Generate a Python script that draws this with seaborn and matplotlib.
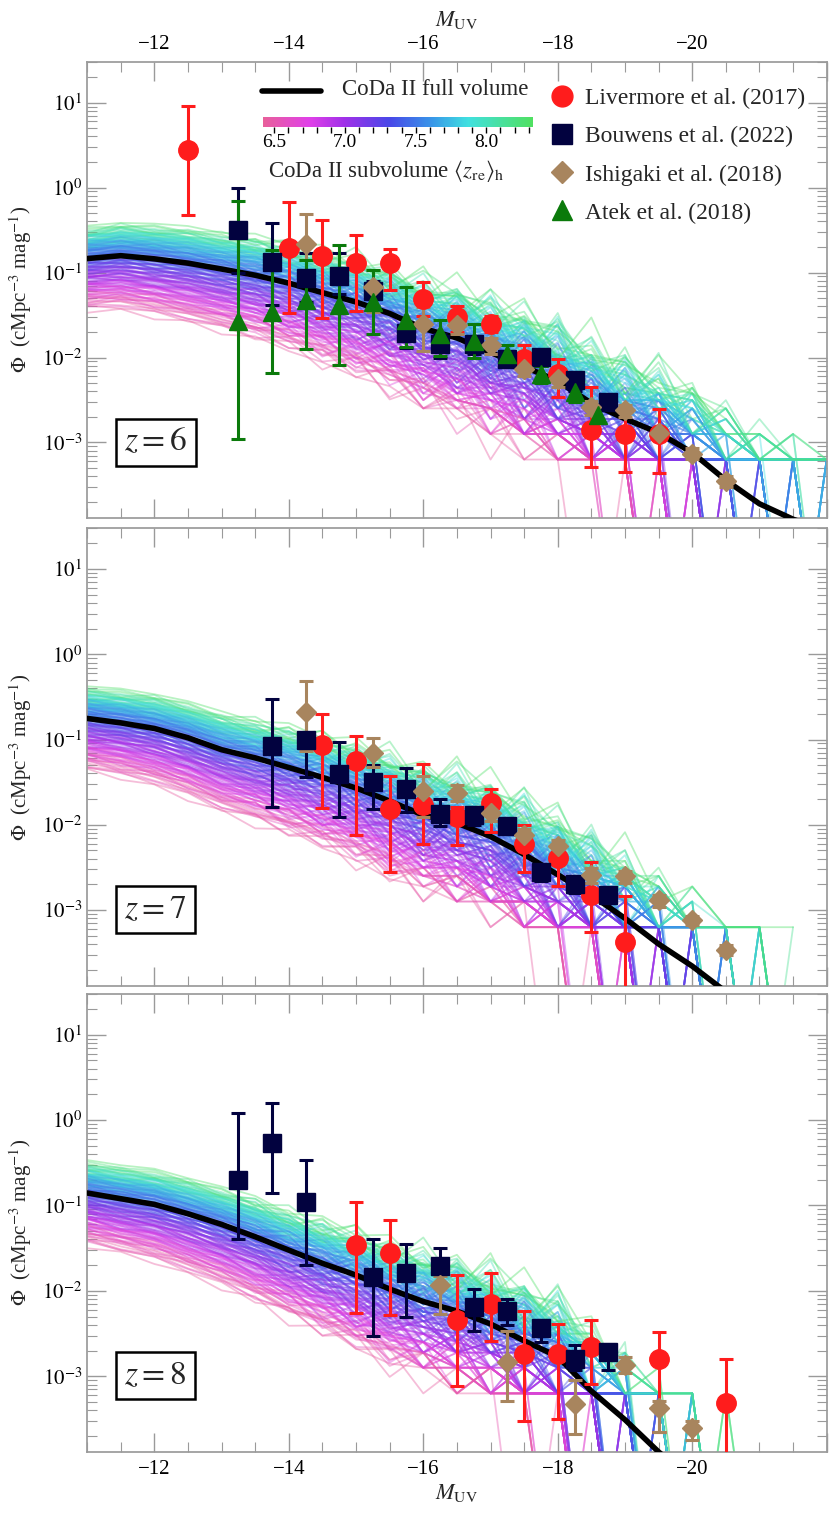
import matplotlib

matplotlib.use("Agg")
import matplotlib.pyplot as plt
import numpy as np
import seaborn as sns
from matplotlib.colors import LinearSegmentedColormap, Normalize
from matplotlib.lines import Line2D
from matplotlib.ticker import FixedLocator, LogLocator, NullFormatter

# ---------------- data ----------------
BINS = [-11.0 - 0.5 * i for i in range(23)]  # -11 ... -22

# CoDa II full volume (black), one value per bin
FULL_Z6 = [0.146, 0.158, 0.145, 0.129, 0.11, 0.093, 0.075, 0.058, 0.045, 0.033, 0.022, 0.017,
           0.0115, 0.0078, 0.0053, 0.0029, 0.0019, 0.0013, 0.00076, 0.00036, 0.00019, 0.000125, 0.00009]
FULL_Z7 = [0.177, 0.157, 0.135, 0.105, 0.076, 0.061, 0.047, 0.036, 0.027, 0.019, 0.013, 0.0105,
           0.0073, 0.0045, 0.0026, 0.0015, 0.0008, 0.0004, 0.00022, 0.00011, 0.00006, 0.00003, 0.000015]
FULL_Z8 = [0.14, 0.12, 0.103, 0.08, 0.06, 0.043, 0.03, 0.021, 0.0153, 0.0105, 0.0075, 0.0058,
           0.0041, 0.0026, 0.0017, 0.00067, 0.00031, 0.00013, 0.00006, 0.00003, 0.000015, 7e-6, 3e-6]
LAST_BIN = {6: -22.0, 7: -21.5, 8: -21.0}

# subvolumes: mean reionization redshift, log offset at M=-11, log tilt per magnitude
SUB_ZRE = [6.45, 6.52, 6.58, 6.63, 6.7, 6.76, 6.81, 6.86, 6.9, 6.95, 6.99, 7.03, 7.07, 7.1, 7.14,
           7.18, 7.22, 7.26, 7.3, 7.34, 7.38, 7.42, 7.46, 7.5, 7.54, 7.58, 7.62, 7.66, 7.7, 7.74,
           7.78, 7.82, 7.87, 7.92, 7.97, 8.02, 8.08, 8.15, 8.22, 8.3]
SUB_OFF = [-0.55, -0.48, -0.5, -0.42, -0.4, -0.36, -0.38, -0.3, -0.28, -0.3, -0.24, -0.22, -0.2,
           -0.18, -0.15, -0.14, -0.1, -0.09, -0.06, -0.05, -0.02, 0.0, 0.02, 0.03, 0.06, 0.07, 0.09,
           0.1, 0.12, 0.13, 0.15, 0.16, 0.18, 0.19, 0.21, 0.22, 0.24, 0.25, 0.27, 0.3]
SUB_TILT = [-0.06, -0.055, -0.05, -0.05, -0.045, -0.045, -0.04, -0.04, -0.035, -0.035, -0.03,
            -0.03, -0.025, -0.025, -0.02, -0.02, -0.015, -0.015, -0.01, -0.01, -0.005, -0.005, 0.0,
            0.0, 0.0, 0.005, 0.005, 0.01, 0.01, 0.01, 0.015, 0.015, 0.015, 0.02, 0.02, 0.02, 0.025,
            0.025, 0.03, 0.03]
VARIANT = [-0.07, -0.02, 0.03, 0.08]
JITTER = [0.0, 0.02, -0.03, 0.04, -0.02, 0.05, -0.06, 0.03, 0.08, -0.1, 0.12, -0.05, 0.14,
          -0.15, 0.1, -0.18, 0.2, -0.12, 0.16, -0.22, 0.25, -0.2, 0.18]
UNIT = 6.3e-4  # one galaxy per bin in a subvolume

# observations: (M, phi, lo, hi)
LIV = {
    6: [(-12.5, 2.75, 0.47, 9.1), (-14.0, 0.197, 0.033, 0.67), (-14.5, 0.158, 0.029, 0.42),
        (-15.0, 0.13, 0.035, 0.28), (-15.5, 0.128, 0.062, 0.19), (-16.0, 0.049, 0.031, 0.078),
        (-16.5, 0.0296, 0.02, 0.04), (-17.0, 0.025, 0.02, 0.031), (-17.5, 0.0095, 0.007, 0.014),
        (-18.0, 0.0064, 0.0034, 0.0097), (-18.5, 0.0014, 0.00052, 0.0045),
        (-19.0, 0.00126, 0.00045, 0.0023), (-19.5, 0.00126, 0.00044, 0.0025)],
    7: [(-14.5, 0.086, 0.0157, 0.2), (-15.0, 0.056, 0.0076, 0.11), (-15.5, 0.0154, 0.0028, 0.037),
        (-16.0, 0.017, 0.0059, 0.052), (-16.5, 0.0122, 0.0058, 0.016), (-17.0, 0.018, 0.0083, 0.026),
        (-17.5, 0.006, 0.0028, 0.01), (-18.0, 0.0041, 0.0019, 0.0055),
        (-18.5, 0.0015, 0.00056, 0.0037), (-19.0, 0.00042, 1e-5, 0.00148)],
    8: [(-15.0, 0.034, 0.0055, 0.11), (-15.5, 0.028, 0.0052, 0.068), (-16.5, 0.0046, 0.00077, 0.0153),
        (-17.0, 0.0071, 0.0026, 0.0163), (-17.5, 0.0018, 0.0003, 0.0058), (-18.0, 0.0018, 0.00032, 0.0041),
        (-18.5, 0.0022, 0.00081, 0.0045), (-19.5, 0.0016, 0.00022, 0.0033),
        (-20.5, 0.00048, 1e-5, 0.0016)],
}
BOU = {
    6: [(-13.25, 0.32, 0.1, 1.0), (-13.75, 0.133, 0.041, 0.38), (-14.25, 0.087, 0.045, 0.17),
        (-14.75, 0.09, 0.056, 0.17), (-15.25, 0.06, 0.04, 0.08), (-15.75, 0.0194, 0.013, 0.024),
        (-16.25, 0.0144, 0.01, 0.019), (-16.75, 0.0144, 0.011, 0.018), (-17.25, 0.0096, 0.008, 0.012),
        (-17.75, 0.0102, 0.008, 0.012), (-18.25, 0.0054, 0.004, 0.0065), (-18.75, 0.003, 0.0024, 0.0036)],
    7: [(-13.75, 0.083, 0.0164, 0.3), (-14.25, 0.1, 0.036, 0.2), (-14.75, 0.039, 0.0123, 0.094),
        (-15.25, 0.032, 0.0154, 0.05), (-15.75, 0.026, 0.014, 0.046), (-16.25, 0.0134, 0.0096, 0.02),
        (-16.75, 0.013, 0.01, 0.016), (-17.25, 0.0096, 0.008, 0.011), (-17.75, 0.0028, 0.0022, 0.0034),
        (-18.25, 0.002, 0.0016, 0.0024), (-18.75, 0.0015, 0.0012, 0.0018)],
    8: [(-13.25, 0.2, 0.04, 1.2), (-13.75, 0.54, 0.14, 1.58), (-14.25, 0.11, 0.02, 0.34),
        (-15.25, 0.0144, 0.003, 0.041), (-15.75, 0.016, 0.005, 0.035), (-16.25, 0.0195, 0.012, 0.032),
        (-16.75, 0.0065, 0.0034, 0.0105), (-17.25, 0.0058, 0.004, 0.0081), (-17.75, 0.0037, 0.0025, 0.0045),
        (-18.25, 0.0016, 0.0012, 0.0023), (-18.75, 0.0019, 0.0012, 0.0024)],
}
ISH = {
    6: [(-14.25, 0.215, 0.14, 0.49), (-15.25, 0.068, 0.034, 0.108), (-16.0, 0.025, 0.012, 0.039),
        (-16.5, 0.024, 0.019, 0.03), (-17.0, 0.014, 0.011, 0.017), (-17.5, 0.0074, 0.006, 0.009),
        (-18.0, 0.0056, 0.0045, 0.0067), (-18.5, 0.0026, 0.0021, 0.0031), (-19.0, 0.0024, 0.002, 0.0028),
        (-19.5, 0.0013, 0.0011, 0.0015), (-20.0, 0.00074, 0.00064, 0.00085),
        (-20.5, 0.00035, 0.0003, 0.0004)],
    7: [(-14.25, 0.21, 0.074, 0.49), (-15.25, 0.07, 0.048, 0.105), (-16.0, 0.025, 0.0125, 0.037),
        (-16.5, 0.0235, 0.019, 0.029), (-17.0, 0.0137, 0.011, 0.017), (-17.5, 0.0076, 0.0062, 0.009),
        (-18.0, 0.0056, 0.0046, 0.0067), (-18.5, 0.0026, 0.0021, 0.0031), (-19.0, 0.0025, 0.0021, 0.0029),
        (-19.5, 0.0013, 0.0011, 0.0015), (-20.0, 0.00076, 0.00066, 0.00086),
        (-20.5, 0.00034, 0.0003, 0.00039)],
    8: [(-16.25, 0.0117, 0.0054, 0.015), (-17.25, 0.00145, 0.00052, 0.0034),
        (-18.25, 0.00047, 0.00021, 0.00091), (-19.0, 0.00135, 0.0011, 0.0017),
        (-19.5, 0.00042, 0.00022, 0.00052), (-20.0, 0.00025, 0.00018, 0.0003)],
}
ATEK = {
    6: [(-13.25, 0.027, 0.0011, 0.7), (-13.75, 0.034, 0.0065, 0.185), (-14.25, 0.047, 0.0125, 0.14),
        (-14.75, 0.041, 0.0082, 0.21), (-15.25, 0.045, 0.019, 0.106), (-15.75, 0.028, 0.0134, 0.067),
        (-16.25, 0.0188, 0.0105, 0.028), (-16.75, 0.0158, 0.01, 0.025), (-17.25, 0.011, 0.008, 0.014),
        (-17.75, 0.0064, 0.005, 0.008), (-18.25, 0.0039, 0.003, 0.0048), (-18.6, 0.0021, 0.0017, 0.0026)],
}
FULL = {6: FULL_Z6, 7: FULL_Z7, 8: FULL_Z8}

# ---------------- style ----------------
sns.set_theme(style="ticks")
plt.rcParams["font.family"] = ["Liberation Serif", "DejaVu Serif"]
plt.rcParams["mathtext.fontset"] = "stix"
plt.rcParams["axes.edgecolor"] = "#9a9a9a"
plt.rcParams["xtick.color"] = "#9a9a9a"
plt.rcParams["ytick.color"] = "#9a9a9a"
plt.rcParams["xtick.labelcolor"] = "black"
plt.rcParams["ytick.labelcolor"] = "black"

CMAP = LinearSegmentedColormap.from_list(
    "zre",
    [(0.0, "#e8609a"), (0.17, "#e040e8"), (0.3, "#a030e8"), (0.47, "#4848e8"),
     (0.63, "#3898e8"), (0.76, "#40e0e0"), (1.0, "#50e060")],
)
NORM = Normalize(6.42, 8.33)
RED, NAVY, TAN, GREEN = "#ff1c1c", "#02023f", "#a8855e", "#0b7a0b"
YLIM = (1.3e-4, 30)

fig = plt.figure(figsize=(8.30, 15.14), dpi=100)
rects = [(0.105, 0.658, 0.891, 0.301), (0.105, 0.349, 0.891, 0.302), (0.105, 0.041, 0.891, 0.3025)]
bins = np.array(BINS)

for k, (z, rect) in enumerate(zip([6, 7, 8], rects)):
    ax = fig.add_axes(rect)
    base = np.log10(np.array(FULL[z]))
    keep = bins >= LAST_BIN[z] - 1e-9
    ramp = np.clip((-bins - 12.5) / 3.5, 0.15, 1.6)
    for j, var in enumerate(VARIANT):
        for i, (zre, off, tilt) in enumerate(zip(SUB_ZRE, SUB_OFF, SUB_TILT)):
            jit = np.roll(np.array(JITTER), i * 7 + j * 5 + z) * ramp
            logv = base + off + var + tilt * (-bins - 11.0) + jit
            v = 10 ** logv
            n = np.floor(v / UNIT + 0.7)
            v = np.where(bins < -15.5, np.where(n > 0, n * UNIT, 1e-6), v)
            ax.plot(bins[keep], v[keep], color=CMAP(NORM(zre)), alpha=0.4, lw=1.3, zorder=1)
    sns.lineplot(x=BINS, y=FULL[z], ax=ax, color="black", lw=4, zorder=3, legend=False)

    def obs(data, color, marker, ms):
        arr = np.array(data)
        ax.errorbar(arr[:, 0], arr[:, 1], yerr=[arr[:, 1] - arr[:, 2], arr[:, 3] - arr[:, 1]],
                    fmt=marker, color=color, ms=ms, elinewidth=2.2, capsize=5, capthick=2.2,
                    zorder=4)

    obs(LIV[z], RED, "o", 14)
    obs(BOU[z], NAVY, "s", 13)
    obs(ISH[z], TAN, "D", 10)
    if z in ATEK:
        obs(ATEK[z], GREEN, "^", 13)

    ax.set_yscale("log")
    ax.set_ylim(*YLIM)
    ax.set_xlim(-11, -22)
    ax.xaxis.set_major_locator(FixedLocator([-12, -14, -16, -18, -20, -22]))
    ax.xaxis.set_minor_locator(FixedLocator(np.arange(-11, -22.01, -0.5)))
    ax.set_xticklabels(["\u221212", "\u221214", "\u221216", "\u221218", "\u221220", ""])
    ax.yaxis.set_major_locator(FixedLocator([1e-3, 1e-2, 1e-1, 1, 10]))
    ax.set_yticklabels([r"$10^{-3}$", r"$10^{-2}$", r"$10^{-1}$", r"$10^{0}$", r"$10^{1}$"])
    ax.yaxis.set_minor_locator(LogLocator(base=10, subs=np.arange(2, 10), numticks=20))
    ax.yaxis.set_minor_formatter(NullFormatter())
    ax.tick_params(which="both", direction="in", top=True, right=True, labelsize=15)
    ax.tick_params(which="major", length=14, width=1)
    ax.tick_params(which="minor", length=7, width=0.8)
    ax.tick_params(axis="x", labelbottom=(k == 2), labeltop=(k == 0), pad=6)
    ax.set_ylabel(r"$\Phi$  (cMpc$^{-3}$ mag$^{-1}$)", fontsize=15, labelpad=6)
    if k == 0:
        ax.xaxis.set_label_position("top")
        ax.set_xlabel(r"$M_{\rm UV}$", fontsize=16, labelpad=6)
    if k == 2:
        ax.set_xlabel(r"$M_{\rm UV}$", fontsize=16, labelpad=2)
    ax.text(0.05, 0.166, rf"$z = {z}$", transform=ax.transAxes, fontsize=24,
            ha="left", va="center",
            bbox=dict(boxstyle="square,pad=0.25", fc="white", ec="black", lw=1.8))

    if k == 0:
        handles = [Line2D([], [], ls="none", marker=m, color=c, ms=s)
                   for m, c, s in [("o", RED, 15), ("s", NAVY, 14), ("D", TAN, 11), ("^", GREEN, 14)]]
        labels = ["Livermore et al. (2017)", "Bouwens et al. (2022)",
                  "Ishigaki et al. (2018)", "Atek et al. (2018)"]
        ax.legend(handles, labels, loc="upper right", bbox_to_anchor=(1.0, 0.99), frameon=False,
                  fontsize=17, handletextpad=0.4, labelspacing=0.7, handlelength=1.2)
        ax.add_line(Line2D([0.236, 0.316], [0.937, 0.937], transform=ax.transAxes,
                           color="black", lw=4))
        ax.text(0.344, 0.94, "CoDa II full volume", transform=ax.transAxes, fontsize=16.5,
                va="center", ha="left")
        ax.text(0.245, 0.76, r"CoDa II subvolume $\langle z_{\rm re}\rangle_{\rm h}$",
                transform=ax.transAxes, fontsize=16.5, va="center", ha="left")

cax = fig.add_axes((263 / 830, 1 - 127 / 1514, 270 / 830, 10 / 1514))
cb = fig.colorbar(plt.cm.ScalarMappable(norm=NORM, cmap=CMAP), cax=cax, orientation="horizontal")
cb.outline.set_visible(False)
cb.set_ticks([6.5, 7.0, 7.5, 8.0])
cb.set_ticklabels(["6.5", "7.0", "7.5", "8.0"])
cb.ax.xaxis.set_minor_locator(FixedLocator(np.arange(6.5, 8.35, 0.1)))
cb.ax.tick_params(which="both", direction="out", length=4, width=1, color="black", labelsize=14, pad=1)

fig.savefig("out.png", dpi=100, facecolor="white")
